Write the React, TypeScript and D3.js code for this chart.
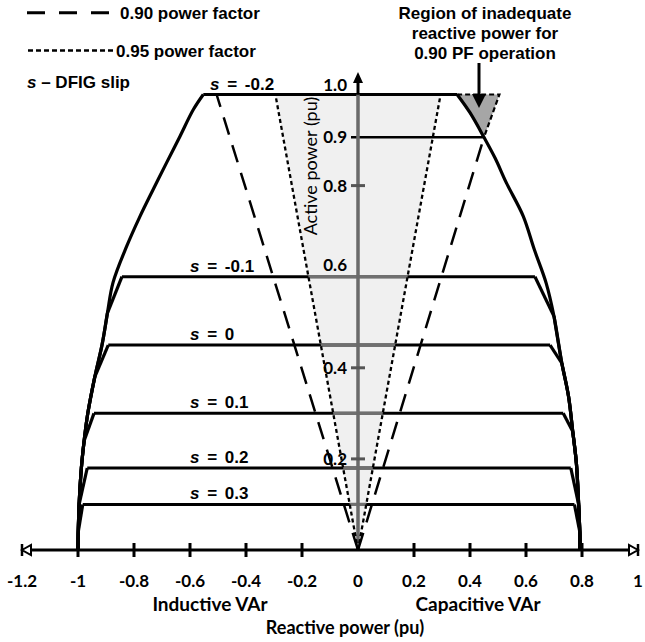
import React from "react";
import * as d3 from "d3";

const W = 645;
const H = 642;

// Axis ticks
const qTickValues = [-1.2, -1, -0.8, -0.6, -0.4, -0.2, 0, 0.2, 0.4, 0.6, 0.8, 1];
const qTickLabels = ["-1.2", "-1", "-0.8", "-0.6", "-0.4", "-0.2", "0", "0.2", "0.4", "0.6", "0.8", "1"];
const pTickValues = [1.0, 0.906, 0.8, 0.6, 0.4, 0.2];
const pTickLabels = ["1.0", "0.9", "0.8", "0.6", "0.4", "0.2"];
const pTickMarks = [0.2, 0.4, 0.8];

// Slip lines (max active power and reactive limits)
const slipLabels = ["-0.2", "-0.1", "0", "0.1", "0.2", "0.3"];
const slipPmax = [1.0, 0.6, 0.45, 0.3, 0.18, 0.1];
const slipQLeft = [-0.5525, -0.843, -0.892, -0.943, -0.967, -0.983];
const slipQRight = [0.354, 0.632, 0.686, 0.733, 0.76, 0.773];

// Capability envelope (inductive side)
const envLeftP = [1.0, 0.967, 0.908, 0.851, 0.791, 0.732, 0.667, 0.587, 0.52, 0.451, 0.38, 0.3, 0.24, 0.18, 0.1, 0.04, 0];
const envLeftQ = [-0.5525, -0.588, -0.636, -0.683, -0.732, -0.779, -0.826, -0.875, -0.895, -0.914, -0.94, -0.965, -0.978, -0.988, -0.996, -0.999, -1.0];
// Capability envelope (capacitive side)
const envRightP = [1.0, 0.96, 0.906, 0.86, 0.806, 0.733, 0.659, 0.586, 0.513, 0.41, 0.337, 0.26, 0.19, 0.1, 0.04, 0];
const envRightQ = [0.354, 0.4, 0.45, 0.49, 0.53, 0.59, 0.63, 0.672, 0.7, 0.728, 0.752, 0.767, 0.78, 0.788, 0.792, 0.793];

// Power factor lines: reactive power at P = 1.0
const pf90Q = 0.505;
const pf95Q = 0.295;
const pfLimitP = 0.906;
const pfLimitQ = 0.45;

// Region of inadequate reactive power (triangle)
const inadequateQ = [0.354, 0.505, 0.45];
const inadequateP = [1.0, 1.0, 0.906];

const legendItems = ["0.90 power factor", "0.95 power factor"];
const annotationLines = ["Region of inadequate", "reactive power for", "0.90 PF operation"];

export default function App() {
  const x = d3.scaleLinear().domain([-1.2, 1]).range([22, 638]);
  const y = d3.scaleLinear().domain([0, 1]).range([550, 94.5]);

  const lineGen = d3
    .line<[number, number]>()
    .x((d) => x(d[0]))
    .y((d) => y(d[1]))
    .curve(d3.curveCatmullRom.alpha(0.5));
  const straight = d3
    .line<[number, number]>()
    .x((d) => x(d[0]))
    .y((d) => y(d[1]));

  const envLeft: [number, number][] = envLeftP.map((p, i) => [envLeftQ[i], p]);
  const envRight: [number, number][] = envRightP.map((p, i) => [envRightQ[i], p]);

  const slipCurves: string[] = [];
  slipPmax.forEach((pm, i) => {
    [
      [slipQLeft[i], envLeft],
      [slipQRight[i], envRight],
    ].forEach(([qs, env]: any) => {
      if (i === 0) {
        slipCurves.push(lineGen(env) as string);
      } else {
        const rest = (env as [number, number][]).filter((d) => d[1] < pm - 0.03);
        slipCurves.push(straight([[qs, pm], rest[0]]) as string);
        slipCurves.push(lineGen(rest) as string);
      }
    });
  });

  const shaded: [number, number][] = [
    [0, 0],
    [-pf95Q, 1.0],
    [pf95Q, 1.0],
  ];
  const shadedPath = straight(shaded) + "Z";
  const tri: [number, number][] = inadequateQ.map((q, i) => [q, inadequateP[i]]);

  const x0 = x(0);
  const yAxisTop = 72;
  const axisY = y(0);
  const tickFont = "Lato, 'Open Sans', sans-serif";
  const arialB = "'Liberation Sans', Arial, sans-serif";
  const pLabelDy = [-3.5, 6, 6, -6, 6, 6];
  const slipLabelX = [210, 190, 190, 190, 190, 190];

  return (
    <svg
      width={W}
      height={H}
      style={{ position: "absolute", left: 0, top: 0, background: "#fff" }}
      xmlns="http://www.w3.org/2000/svg"
    >
      <defs>
        <clipPath id="shadeClip">
          <path d={shadedPath} />
        </clipPath>
      </defs>
      <rect width={W} height={H} fill="#fff" />

      {/* light shaded region between 0.95 PF lines */}
      <path d={shadedPath} fill="#f0f0f0" />

      {/* inadequate region */}
      <path d={straight(tri) + "Z"} fill="#a6a6a6" />

      {/* slip horizontal lines */}
      {slipPmax.map((pm, i) => (
        <line
          key={"sl" + i}
          x1={x(slipQLeft[i])}
          x2={x(slipQRight[i])}
          y1={y(pm)}
          y2={y(pm)}
          stroke="#000"
          strokeWidth={3}
        />
      ))}
      <g clipPath="url(#shadeClip)">
        {slipPmax.slice(1).map((pm, i) => (
          <line
            key={"slg" + i}
            x1={x(slipQLeft[i + 1])}
            x2={x(slipQRight[i + 1])}
            y1={y(pm)}
            y2={y(pm)}
            stroke="#707070"
            strokeWidth={3.2}
          />
        ))}
      </g>

      {/* slip capability curves */}
      {slipCurves.map((d, i) => (
        <path key={"c" + i} d={d} fill="none" stroke="#000" strokeWidth={3.2} />
      ))}

      {/* inadequate region outline */}
      <path
        d={straight([tri[0], tri[1], tri[2]]) as string}
        fill="none"
        stroke="#000"
        strokeWidth={2.2}
        strokeDasharray="5,3"
      />

      {/* 0.90 PF line at P = 0.9 */}
      <line x1={x0 - 7} x2={x(pfLimitQ)} y1={y(pfLimitP)} y2={y(pfLimitP)} stroke="#000" strokeWidth={2.5} />

      {/* y axis */}
      <line x1={x0} x2={x0} y1={axisY} y2={y(1.0)} stroke="#6a6a6a" strokeWidth={3.5} />
      <line x1={x0} x2={x0} y1={y(1.0)} y2={yAxisTop + 8} stroke="#000" strokeWidth={3} />
      <path d={`M${x0},${yAxisTop} L${x0 - 5},${yAxisTop + 11} L${x0 + 5},${yAxisTop + 11} Z`} fill="#000" />
      {pTickMarks.map((p) => (
        <line key={"pt" + p} x1={x0 - 7} x2={x0 + 7} y1={y(p)} y2={y(p)} stroke="#555" strokeWidth={3} />
      ))}

      {/* PF lines */}
      <path d={straight([[0, 0], [-pf90Q, 1.0]]) as string} stroke="#000" strokeWidth={2.5} strokeDasharray="18,11" fill="none" />
      <path d={straight([[0, 0], [pfLimitQ, pfLimitP]]) as string} stroke="#000" strokeWidth={2.5} strokeDasharray="18,11" fill="none" />
      <path d={straight([[0, 0], [-pf95Q, 1.0]]) as string} stroke="#000" strokeWidth={2.3} strokeDasharray="4,3" fill="none" />
      <path d={straight([[0, 0], [pf95Q, 1.0]]) as string} stroke="#000" strokeWidth={2.3} strokeDasharray="4,3" fill="none" />

      {/* x axis */}
      <line x1={x(-1.2)} x2={x(1)} y1={axisY} y2={axisY} stroke="#000" strokeWidth={3} />
      {qTickValues
        .filter((q) => q > -1.1 && q < 0.9 && Math.abs(q) > 1e-9)
        .map((q) => (
          <line key={"qt" + q} x1={x(q)} x2={x(q)} y1={axisY - 7} y2={axisY + 7} stroke="#000" strokeWidth={3} />
        ))}
      <line x1={x(-1.2)} x2={x(-1.2)} y1={axisY - 6} y2={axisY + 6} stroke="#000" strokeWidth={2.5} />
      <path d={`M${x(-1.2)},${axisY} L${x(-1.2) + 9},${axisY - 5} L${x(-1.2) + 9},${axisY + 5} Z`} fill="#fff" stroke="#000" strokeWidth={2} />
      <line x1={x(1)} x2={x(1)} y1={axisY - 6} y2={axisY + 6} stroke="#000" strokeWidth={2.5} />
      <path d={`M${x(1)},${axisY} L${x(1) - 9},${axisY - 5} L${x(1) - 9},${axisY + 5} Z`} fill="#fff" stroke="#000" strokeWidth={2} />

      {/* x tick labels */}
      {qTickValues.map((q, i) => (
        <text key={"ql" + i} x={x(q)} y={587} textAnchor="middle" fontFamily={tickFont} fontWeight="bold" fontSize={17} fill="#000">
          {qTickLabels[i]}
        </text>
      ))}

      {/* y tick labels */}
      {pTickValues.map((p, i) => (
        <text key={"pl" + i} x={347} y={y(p) + pLabelDy[i]} textAnchor="end" fontFamily={tickFont} fontWeight="bold" fontSize={17} fill="#000">
          {pTickLabels[i]}
        </text>
      ))}

      {/* slip labels */}
      {slipPmax.map((pm, i) => (
        <text key={"slab" + i} x={slipLabelX[i]} y={y(pm) - 5} fontFamily={arialB} fontWeight="bold" fontSize={17} wordSpacing={3} fill="#000">
          <tspan fontStyle="italic">s</tspan>
          {" = " + slipLabels[i]}
        </text>
      ))}

      {/* axis titles */}
      <text x={0} y={0} transform={`translate(317,166) rotate(-90)`} textAnchor="middle" fontFamily={tickFont} fontSize={18} fill="#000">
        Active power (pu)
      </text>
      <text x={210} y={611} textAnchor="middle" fontFamily={tickFont} fontWeight="bold" fontSize={19} fill="#000">
        Inductive VAr
      </text>
      <text x={478} y={611} textAnchor="middle" fontFamily={tickFont} fontWeight="bold" fontSize={19} fill="#000">
        Capacitive VAr
      </text>
      <text x={345} y={634} textAnchor="middle" fontFamily={tickFont} fontWeight="bold" fontSize={18} fill="#000">
        Reactive power (pu)
      </text>

      {/* legend */}
      <line x1={27} x2={110} y1={12.7} y2={12.7} stroke="#000" strokeWidth={3} strokeDasharray="18,14" />
      <text x={120} y={18.8} fontFamily={arialB} fontWeight="bold" fontSize={17} fill="#000">
        {legendItems[0]}
      </text>
      <line x1={28} x2={113} y1={50.5} y2={50.5} stroke="#000" strokeWidth={2.5} strokeDasharray="5,3" />
      <text x={116} y={56.6} fontFamily={arialB} fontWeight="bold" fontSize={17} fill="#000">
        {legendItems[1]}
      </text>
      <text x={27} y={87.8} fontFamily={arialB} fontWeight="bold" fontSize={17} fill="#000">
        <tspan fontStyle="italic">s</tspan>
        {" – DFIG slip"}
      </text>

      {/* annotation */}
      {annotationLines.map((t, i) => (
        <text key={"an" + i} x={485} y={19.3 + i * 20} textAnchor="middle" fontFamily={arialB} fontWeight="bold" fontSize={17} fill="#000">
          {t}
        </text>
      ))}
      <line x1={479} x2={479} y1={63} y2={97} stroke="#000" strokeWidth={3} />
      <path d="M479,108 L472,94 L486,94 Z" fill="#000" />
    </svg>
  );
}
